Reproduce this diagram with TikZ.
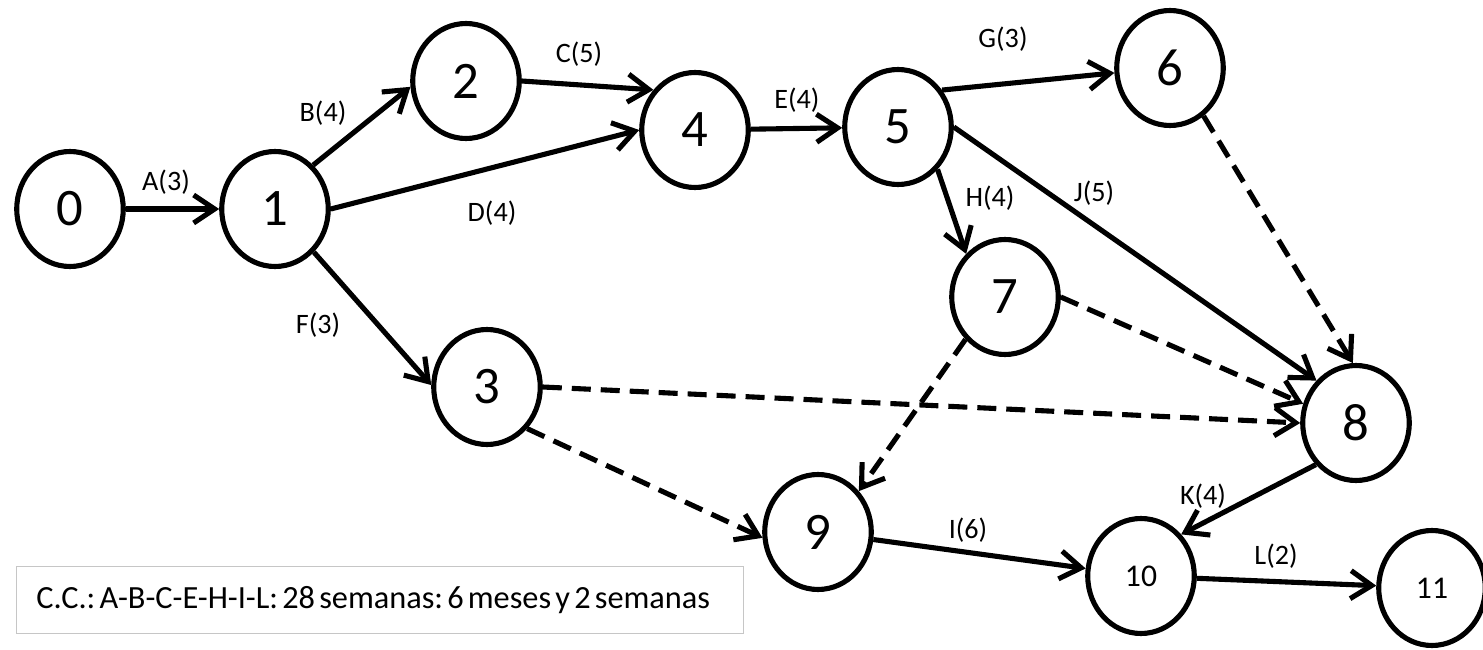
\documentclass[tikz,border=0pt]{standalone}
\usepackage{fontspec}
\setmainfont{Carlito}
\usetikzlibrary{arrows.meta,shapes.geometric}

\begin{document}
\begin{tikzpicture}[
		evento/.style={draw,ellipse,line width=2.9pt,minimum width=2.13cm,minimum height=2.30cm,inner sep=0pt,font=\fontsize{30}{30}\selectfont},
		eventochico/.style={evento,font=\fontsize{18}{18}\selectfont},
		actividad/.style={line width=2.9pt,-{Straight Barb[length=4.2mm,width=5.6mm]}},
		ficticia/.style={actividad,dash pattern=on 3.8mm off 2mm},
		etiqueta/.style={font=\fontsize{16}{16}\selectfont}]
	\useasboundingbox (0,0) rectangle (29.66,12.98);
	\node[evento] (n0) at (1.40,8.80) {0};
	\node[evento] (n1) at (5.50,8.80) {1};
	\node[evento] (n2) at (9.32,11.36) {2};
	\node[evento] (n3) at (9.74,5.24) {3};
	\node[evento] (n4) at (13.90,10.38) {4};
	\node[evento] (n5) at (17.96,10.44) {5};
	\node[evento] (n6) at (23.40,11.62) {6};
	\node[evento] (n7) at (20.10,7.04) {7};
	\node[evento] (n8) at (27.12,4.52) {8};
	\node[evento] (n9) at (16.36,2.34) {9};
	\node[eventochico] (n10) at (22.82,1.46) {10};
	\node[eventochico] (n11) at (28.64,1.22) {11};
	\draw[actividad] (n0) -- (n1);
	\draw[actividad] (n1.49) -- (n2.186);
	\draw[actividad] (n2.east) -- (n4.136);
	\draw[actividad] (n1.east) -- (n4.west);
	\draw[actividad] (n4) -- (n5);
	\draw[actividad] (n1.-48) -- (n3.178);
	\draw[actividad] (n5.40) -- (n6.185);
	\draw[actividad] (n5.-47) -- (n7.132);
	\draw[actividad] (n5.east) -- (n8.133);
	\draw[ficticia] (n6.-55) -- (n8.93);
	\draw[ficticia] (n7.east) -- (n8.160);
	\draw[ficticia] (n3.east) -- (n8.west);
	\draw[ficticia] (n7.227) -- (n9.45);
	\draw[ficticia] (n3.-46) -- (n9.186);
	\draw[actividad] (n9) -- (n10);
	\draw[actividad] (n8.226) -- (n10.46);
	\draw[actividad] (n10) -- (n11);
	\node[etiqueta] (lA) at (3.32,9.34) {A(3)};
	\node[etiqueta] (lB) at (6.46,10.72) {B(4)};
	\node[etiqueta] (lC) at (11.58,11.90) {C(5)};
	\node[etiqueta] (lD) at (9.84,8.72) {D(4)};
	\node[etiqueta] (lE) at (15.94,10.98) {E(4)};
	\node[etiqueta] (lF) at (6.36,6.48) {F(3)};
	\node[etiqueta] (lG) at (20.06,12.20) {G(3)};
	\node[etiqueta] (lH) at (19.80,9.02) {H(4)};
	\node[etiqueta] (lJ) at (21.88,9.12) {J(5)};
	\node[etiqueta] (lI) at (19.36,2.38) {I(6)};
	\node[etiqueta] (lK) at (24.06,3.06) {K(4)};
	\node[etiqueta] (lL) at (25.52,1.86) {L(2)};
	\node[draw=gray!45,line width=0.7pt,text width=13.74cm,inner xsep=0.4cm,align=left,minimum height=1.34cm,font=\fontsize{18.4}{18.4}\selectfont] (cc) at (7.60,0.98) {\frenchspacing\spaceskip=0.13em\relax C.C.: A-B-C-E-H-I-L: 28 semanas: 6 meses y 2 semanas};
\end{tikzpicture}
\end{document}
